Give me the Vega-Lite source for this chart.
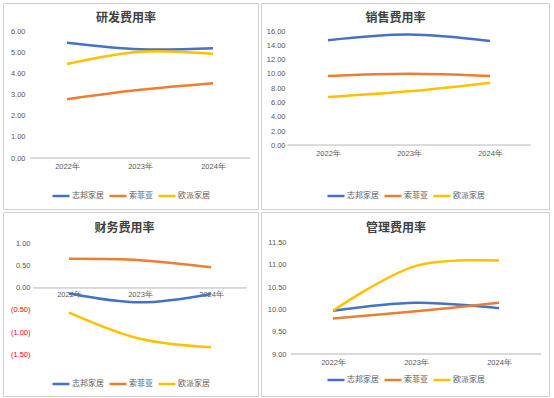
{
  "$schema": "https://vega.github.io/schema/vega-lite/v6.json",
  "background": "white",
  "padding": {"left": 2, "top": 2, "right": 0, "bottom": 0},
  "spacing": 1,
  "resolve": {"scale": {"color": "independent"}, "legend": {"color": "independent"}},
  "config": {
    "font": "Noto Sans CJK SC",
    "view": {"stroke": "#d0d0d0", "strokeWidth": 1},
    "axis": {"grid": false, "domain": false, "ticks": false, "tickSize": 0, "title": null, "labelFont": "Liberation Sans", "labelFontSize": 7.5, "labelColor": "#595959", "labelFlush": false, "labelOverlap": false},
    "title": {"font": "Noto Sans CJK SC", "fontSize": 12, "fontWeight": "bold", "color": "#404040", "anchor": "middle", "frame": "group"},
    "legend": {"orient": "bottom", "direction": "horizontal", "title": null, "symbolType": "stroke", "symbolSize": 289, "symbolStrokeWidth": 2.5, "labelFont": "Noto Sans CJK SC", "labelFontSize": 8, "labelColor": "#595959", "labelOffset": 1, "columnPadding": 0, "gridAlign": "none", "padding": 0, "layout": {"bottom": {"anchor": "middle"}}}
  },
  "datasets": {
    "rd": [
      {"company": "志邦家居", "year": 2022, "value": 5.45},
      {"company": "志邦家居", "year": 2023, "value": 5.14},
      {"company": "志邦家居", "year": 2024, "value": 5.19},
      {"company": "索菲亚", "year": 2022, "value": 2.78},
      {"company": "索菲亚", "year": 2023, "value": 3.22},
      {"company": "索菲亚", "year": 2024, "value": 3.53},
      {"company": "欧派家居", "year": 2022, "value": 4.44},
      {"company": "欧派家居", "year": 2023, "value": 5.02},
      {"company": "欧派家居", "year": 2024, "value": 4.92}
    ],
    "sales": [
      {"company": "志邦家居", "year": 2022, "value": 14.7},
      {"company": "志邦家居", "year": 2023, "value": 15.5},
      {"company": "志邦家居", "year": 2024, "value": 14.6},
      {"company": "索菲亚", "year": 2022, "value": 9.7},
      {"company": "索菲亚", "year": 2023, "value": 10.0},
      {"company": "索菲亚", "year": 2024, "value": 9.7},
      {"company": "欧派家居", "year": 2022, "value": 6.76},
      {"company": "欧派家居", "year": 2023, "value": 7.56},
      {"company": "欧派家居", "year": 2024, "value": 8.77}
    ],
    "fin": [
      {"company": "志邦家居", "year": 2022, "value": -0.13},
      {"company": "志邦家居", "year": 2023, "value": -0.33},
      {"company": "志邦家居", "year": 2024, "value": -0.14},
      {"company": "索菲亚", "year": 2022, "value": 0.65},
      {"company": "索菲亚", "year": 2023, "value": 0.62},
      {"company": "索菲亚", "year": 2024, "value": 0.46},
      {"company": "欧派家居", "year": 2022, "value": -0.56},
      {"company": "欧派家居", "year": 2023, "value": -1.15},
      {"company": "欧派家居", "year": 2024, "value": -1.34}
    ],
    "adm": [
      {"company": "志邦家居", "year": 2022, "value": 9.97},
      {"company": "志邦家居", "year": 2023, "value": 10.15},
      {"company": "志邦家居", "year": 2024, "value": 10.03},
      {"company": "索菲亚", "year": 2022, "value": 9.80},
      {"company": "索菲亚", "year": 2023, "value": 9.96},
      {"company": "索菲亚", "year": 2024, "value": 10.15},
      {"company": "欧派家居", "year": 2022, "value": 9.97},
      {"company": "欧派家居", "year": 2023, "value": 10.98},
      {"company": "欧派家居", "year": 2024, "value": 11.10}
    ]
  },
  "vconcat": [
    {
      "spacing": 1,
      "resolve": {"scale": {"color": "independent"}, "legend": {"color": "independent"}},
      "hconcat": [
        {
          "width": 255, "height": 206,
          "title": {"text": "研发费用率", "dx": -4.5, "offset": -22},
          "data": {"name": "rd"},
          "layer": [
            {
              "mark": {"type": "rule", "color": "#d9d9d9", "strokeWidth": 1},
              "encoding": {
                "x": {"datum": 2021.5, "type": "quantitative", "scale": {"domain": [2021.123, 2024.616], "nice": false, "zero": false}, "axis": {"values": [2022, 2023, 2024], "labelExpr": "datum.value + '年'", "orient": "bottom", "offset": -51, "labelPadding": 4}},
                "x2": {"datum": 2024.5},
                "y": {"datum": 0, "type": "quantitative", "scale": {"domain": [-2.409, 7.323], "nice": false, "zero": false}, "axis": {"values": [0, 1, 2, 3, 4, 5, 6], "format": ".2f", "orient": "left", "offset": -22, "labelPadding": 0}}
              }
            },
            {
              "mark": {"type": "line", "interpolate": "catmull-rom", "strokeWidth": 2.5},
              "encoding": {
                "x": {"field": "year", "type": "quantitative", "scale": {"domain": [2021.123, 2024.616], "nice": false, "zero": false}, "axis": {"values": [2022, 2023, 2024], "labelExpr": "datum.value + '年'", "orient": "bottom", "offset": -51, "labelPadding": 4}},
                "y": {"field": "value", "type": "quantitative", "scale": {"domain": [-2.409, 7.323], "nice": false, "zero": false}, "axis": {"values": [0, 1, 2, 3, 4, 5, 6], "format": ".2f", "orient": "left", "offset": -22, "labelPadding": 0}},
                "color": {"field": "company", "type": "nominal", "scale": {"domain": ["志邦家居", "索菲亚", "欧派家居"], "range": ["#4472C4", "#ED7D31", "#FFC000"]}, "legend": {"offset": -23}}
              }
            }
          ]
        },
        {
          "width": 288, "height": 206,
          "title": {"text": "销售费用率", "dx": -9.5, "offset": -22},
          "data": {"name": "sales"},
          "layer": [
            {
              "mark": {"type": "rule", "color": "#d9d9d9", "strokeWidth": 1},
              "encoding": {
                "x": {"datum": 2021.5, "type": "quantitative", "scale": {"domain": [2021.173, 2024.728], "nice": false, "zero": false}, "axis": {"values": [2022, 2023, 2024], "labelExpr": "datum.value + '年'", "orient": "bottom", "offset": -63.7, "labelPadding": 4}},
                "x2": {"datum": 2024.5},
                "y": {"datum": 0, "type": "quantitative", "scale": {"domain": [-8.92, 19.92], "nice": false, "zero": false}, "axis": {"values": [0, 2, 4, 6, 8, 10, 12, 14, 16], "format": ".2f", "orient": "left", "offset": -24, "labelPadding": 0}}
              }
            },
            {
              "mark": {"type": "line", "interpolate": "catmull-rom", "strokeWidth": 2.5},
              "encoding": {
                "x": {"field": "year", "type": "quantitative", "scale": {"domain": [2021.173, 2024.728], "nice": false, "zero": false}, "axis": {"values": [2022, 2023, 2024], "labelExpr": "datum.value + '年'", "orient": "bottom", "offset": -63.7, "labelPadding": 4}},
                "y": {"field": "value", "type": "quantitative", "scale": {"domain": [-8.92, 19.92], "nice": false, "zero": false}, "axis": {"values": [0, 2, 4, 6, 8, 10, 12, 14, 16], "format": ".2f", "orient": "left", "offset": -24, "labelPadding": 0}},
                "color": {"field": "company", "type": "nominal", "scale": {"domain": ["志邦家居", "索菲亚", "欧派家居"], "range": ["#4472C4", "#ED7D31", "#FFC000"]}, "legend": {"offset": -23}}
              }
            }
          ]
        }
      ]
    },
    {
      "spacing": 1,
      "resolve": {"scale": {"color": "independent"}, "legend": {"color": "independent"}},
      "hconcat": [
        {
          "width": 255, "height": 184,
          "title": {"text": "财务费用率", "dx": -6, "offset": -23},
          "data": {"name": "fin"},
          "layer": [
            {
              "mark": {"type": "rule", "color": "#d9d9d9", "strokeWidth": 1},
              "encoding": {
                "x": {"datum": 2021.5, "type": "quantitative", "scale": {"domain": [2021.07, 2024.662], "nice": false, "zero": false}, "axis": {"values": [2022, 2023, 2024], "labelExpr": "datum.value + '年'", "orient": "bottom", "offset": -108.3, "labelPadding": 3}},
                "x2": {"datum": 2024.5},
                "y": {"datum": 0, "type": "quantitative", "scale": {"domain": [-2.439, 1.705], "nice": false, "zero": false}, "axis": {"values": [-1.5, -1, -0.5, 0, 0.5, 1], "labelExpr": "datum.value < 0 ? '(' + format(-datum.value, '.2f') + ')' : format(datum.value, '.2f')", "labelColor": {"condition": {"test": "datum.value < 0", "value": "#FF0000"}, "value": "#595959"}, "orient": "left", "offset": -27, "labelPadding": 0}}
              }
            },
            {
              "mark": {"type": "line", "interpolate": "catmull-rom", "strokeWidth": 2.5},
              "encoding": {
                "x": {"field": "year", "type": "quantitative", "scale": {"domain": [2021.07, 2024.662], "nice": false, "zero": false}, "axis": {"values": [2022, 2023, 2024], "labelExpr": "datum.value + '年'", "orient": "bottom", "offset": -108.3, "labelPadding": 3}},
                "y": {"field": "value", "type": "quantitative", "scale": {"domain": [-2.439, 1.705], "nice": false, "zero": false}, "axis": {"values": [-1.5, -1, -0.5, 0, 0.5, 1], "labelExpr": "datum.value < 0 ? '(' + format(-datum.value, '.2f') + ')' : format(datum.value, '.2f')", "labelColor": {"condition": {"test": "datum.value < 0", "value": "#FF0000"}, "value": "#595959"}, "orient": "left", "offset": -27, "labelPadding": 0}},
                "color": {"field": "company", "type": "nominal", "scale": {"domain": ["志邦家居", "索菲亚", "欧派家居"], "range": ["#4472C4", "#ED7D31", "#FFC000"]}, "legend": {"offset": -22}}
              }
            }
          ]
        },
        {
          "width": 288, "height": 184,
          "title": {"text": "管理费用率", "dx": -9, "offset": -23},
          "data": {"name": "adm"},
          "layer": [
            {
              "mark": {"type": "rule", "color": "#d9d9d9", "strokeWidth": 1},
              "encoding": {
                "x": {"datum": 2021.5, "type": "quantitative", "scale": {"domain": [2021.133, 2024.602], "nice": false, "zero": false}, "axis": {"values": [2022, 2023, 2024], "labelExpr": "datum.value + '年'", "orient": "bottom", "offset": -42, "labelPadding": 4}},
                "x2": {"datum": 2024.5},
                "y": {"datum": 9, "type": "quantitative", "scale": {"domain": [8.057, 12.19], "nice": false, "zero": false}, "axis": {"values": [9, 9.5, 10, 10.5, 11, 11.5], "format": ".2f", "orient": "left", "offset": -25, "labelPadding": 0}}
              }
            },
            {
              "mark": {"type": "line", "interpolate": "catmull-rom", "strokeWidth": 2.5},
              "encoding": {
                "x": {"field": "year", "type": "quantitative", "scale": {"domain": [2021.133, 2024.602], "nice": false, "zero": false}, "axis": {"values": [2022, 2023, 2024], "labelExpr": "datum.value + '年'", "orient": "bottom", "offset": -42, "labelPadding": 4}},
                "y": {"field": "value", "type": "quantitative", "scale": {"domain": [8.057, 12.19], "nice": false, "zero": false}, "axis": {"values": [9, 9.5, 10, 10.5, 11, 11.5], "format": ".2f", "orient": "left", "offset": -25, "labelPadding": 0}},
                "color": {"field": "company", "type": "nominal", "scale": {"domain": ["志邦家居", "索菲亚", "欧派家居"], "range": ["#4472C4", "#ED7D31", "#FFC000"]}, "legend": {"offset": -26}}
              }
            }
          ]
        }
      ]
    }
  ]
}
